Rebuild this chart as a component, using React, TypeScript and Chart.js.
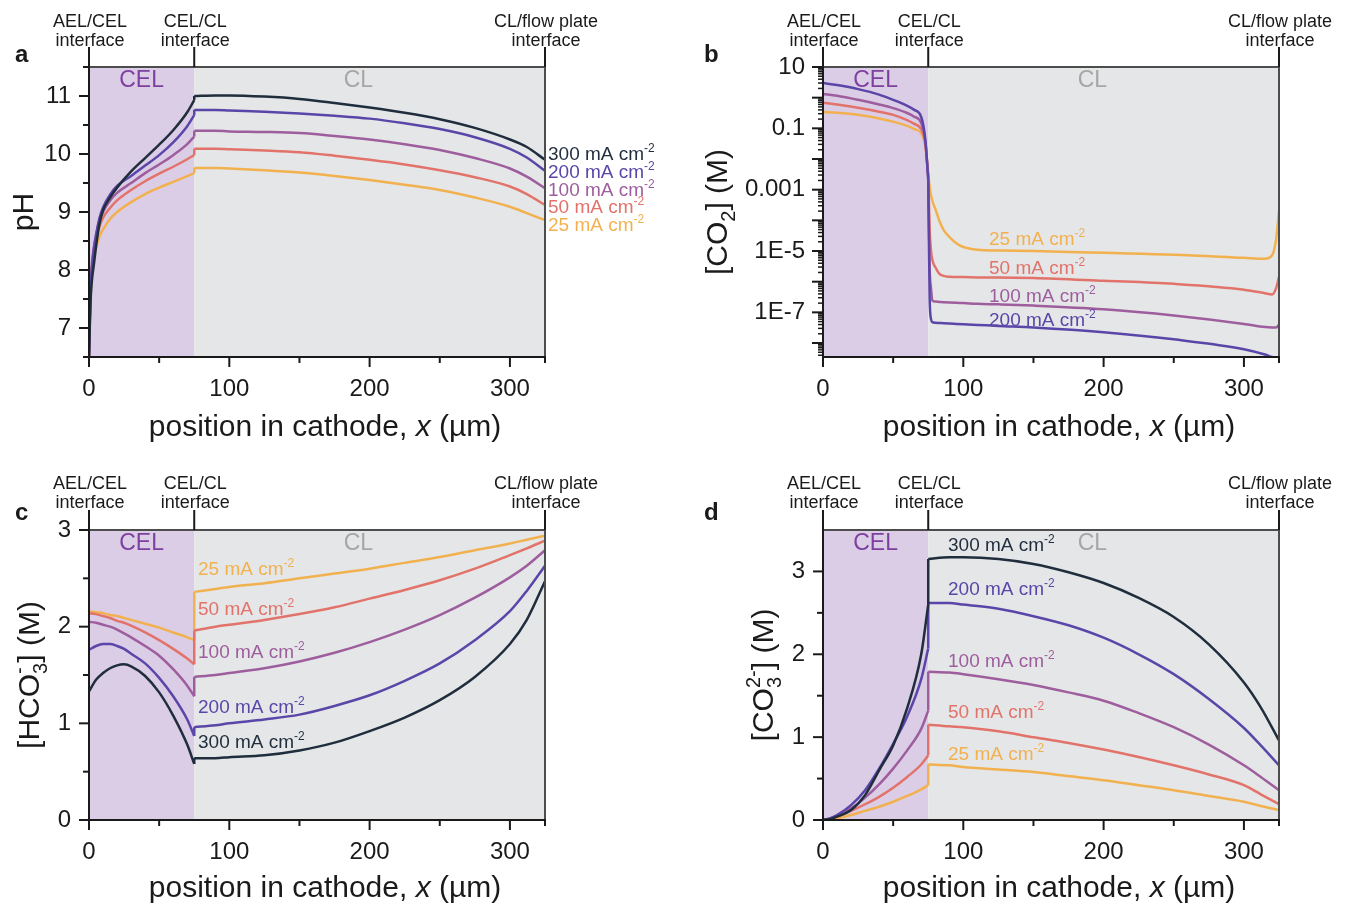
import React, { useEffect, useRef } from 'react';
import { Chart, registerables } from 'chart.js';

Chart.register(...registerables);

const FF = '"Liberation Sans", Arial, Helvetica, sans-serif';

// ---------------- shared axis data ----------------
const X_MIN = 0;
const X_MAX = 325;
const CEL_END = 75;
const X_TICKS = [0, 100, 200, 300];
const X_MINOR = [50, 150, 250];

// ---------------- panel a : pH ----------------
const A_X_CEL = [0, 1, 2, 3.5, 5, 7.5, 10, 15, 20, 30, 40, 50, 60, 70, 75];
const A_X_CL = [75, 90, 100, 125, 150, 175, 200, 225, 250, 275, 300, 312, 325];
const A_300_CEL = [6.5, 7.4, 7.8, 8.1, 8.4, 8.8, 9.03, 9.25, 9.42, 9.7, 9.93, 10.16, 10.41, 10.72, 10.93];
const A_300_CL = [11.0, 11.01, 11.01, 10.99, 10.95, 10.88, 10.8, 10.71, 10.6, 10.45, 10.25, 10.12, 9.9];
const A_200_CEL = [6.5, 7.6, 8.0, 8.35, 8.6, 8.9, 9.08, 9.3, 9.45, 9.62, 9.8, 9.98, 10.2, 10.48, 10.67];
const A_200_CL = [10.76, 10.76, 10.75, 10.73, 10.7, 10.66, 10.61, 10.53, 10.43, 10.29, 10.09, 9.94, 9.71];
const A_100_CEL = [6.5, 7.7, 8.1, 8.4, 8.6, 8.85, 9.0, 9.2, 9.33, 9.5, 9.67, 9.82, 9.98, 10.17, 10.3];
const A_100_CL = [10.4, 10.4, 10.39, 10.38, 10.36, 10.31, 10.25, 10.17, 10.07, 9.93, 9.75, 9.61, 9.41];
const A_50_CEL = [6.5, 7.6, 8.0, 8.35, 8.55, 8.75, 8.9, 9.07, 9.2, 9.38, 9.53, 9.66, 9.78, 9.91, 9.98];
const A_50_CL = [10.09, 10.09, 10.08, 10.06, 10.03, 9.97, 9.9, 9.82, 9.72, 9.6, 9.44, 9.31, 9.12];
const A_25_CEL = [6.5, 7.5, 7.9, 8.2, 8.38, 8.58, 8.7, 8.88, 9.0, 9.17, 9.31, 9.42, 9.52, 9.62, 9.67];
const A_25_CL = [9.76, 9.76, 9.75, 9.72, 9.68, 9.62, 9.55, 9.47, 9.38, 9.25, 9.09, 8.98, 8.86];
const A_Y_TICKS = [7, 8, 9, 10, 11];
const A_Y_LABELS = ['7', '8', '9', '10', '11'];
const A_Y_MINOR = [6.5, 7.5, 8.5, 9.5, 10.5, 11.5];

// ---------------- panel b : [CO2] ----------------
const B_X_CEL = [0, 10, 25, 40, 50, 60, 65, 70, 73, 75];
const B_X_CL = [75, 76, 77, 78, 80, 83, 86, 90, 95, 100, 110, 125, 150, 200, 250, 300, 315, 320, 323, 325];
const B_200_CEL = [3.0, 2.57, 1.9, 1.26, 0.85, 0.54, 0.4, 0.234, 0.04, 0.002];
const B_200_CL = [2e-3, 3e-7, 6e-8, 4.8e-8, 4.6e-8, 4.5e-8, 4.4e-8, 4.3e-8, 4.2e-8, 4.1e-8, 3.9e-8, 3.6e-8, 3.2e-8, 2.24e-8, 1.32e-8, 6.3e-9, 4.2e-9, 3.5e-9, 3.2e-9, 2.8e-9];
const B_100_CEL = [1.32, 1.15, 0.85, 0.6, 0.457, 0.316, 0.24, 0.15, 0.035, 0.0025];
const B_100_CL = [2.5e-3, 3e-6, 6e-7, 2.4e-7, 2.24e-7, 2.19e-7, 2.14e-7, 2.09e-7, 2.04e-7, 2.0e-7, 1.9e-7, 1.82e-7, 1.66e-7, 1.26e-7, 7.9e-8, 4.2e-8, 3.3e-8, 3.2e-8, 3.2e-8, 4.0e-8];
const B_50_CEL = [0.68, 0.6, 0.47, 0.35, 0.275, 0.186, 0.14, 0.093, 0.03, 0.003];
const B_50_CL = [3e-3, 5e-5, 1e-5, 5e-6, 3e-6, 1.8e-6, 1.55e-6, 1.45e-6, 1.41e-6, 1.41e-6, 1.38e-6, 1.38e-6, 1.32e-6, 1.07e-6, 8.5e-7, 5.5e-7, 4.2e-7, 3.8e-7, 6.3e-7, 1.45e-6];
const B_25_CEL = [0.34, 0.32, 0.275, 0.21, 0.166, 0.12, 0.095, 0.069, 0.025, 0.003];
const B_25_CL = [3e-3, 1.3e-3, 6.5e-4, 4.2e-4, 2.4e-4, 9.5e-5, 4.8e-5, 2.9e-5, 1.8e-5, 1.35e-5, 1.1e-5, 1.04e-5, 1.0e-5, 8.7e-6, 7.6e-6, 6.0e-6, 5.6e-6, 7.1e-6, 2.5e-5, 2.0e-4];
const B_Y_TICKS = [10, 0.1, 0.001, 1e-5, 1e-7];
const B_Y_LABELS = ['10', '0.1', '0.001', '1E-5', '1E-7'];
const B_Y_MIN = 3.5e-9;
const B_Y_MAX = 10;

// ---------------- panel c : [HCO3-] ----------------
const C_X_CEL = [0, 5, 10, 15, 20, 25, 30, 40, 50, 60, 70, 75];
const C_X_CL = [75, 90, 100, 125, 150, 175, 200, 225, 250, 275, 300, 312, 325];
const C_300_CEL = [1.33, 1.45, 1.52, 1.57, 1.6, 1.61, 1.59, 1.49, 1.32, 1.08, 0.78, 0.58];
const C_300_CL = [0.64, 0.64, 0.65, 0.67, 0.72, 0.8, 0.92, 1.06, 1.24, 1.48, 1.82, 2.07, 2.47];
const C_200_CEL = [1.76, 1.8, 1.82, 1.82, 1.8, 1.77, 1.72, 1.62, 1.47, 1.28, 1.04, 0.87];
const C_200_CL = [0.96, 0.98, 1.0, 1.04, 1.09, 1.18, 1.29, 1.44, 1.62, 1.86, 2.16, 2.37, 2.63];
const C_100_CEL = [2.05, 2.04, 2.02, 2.0, 1.97, 1.93, 1.89, 1.8, 1.7, 1.56, 1.39, 1.28];
const C_100_CL = [1.48, 1.5, 1.52, 1.57, 1.64, 1.73, 1.84, 1.97, 2.12, 2.3, 2.51, 2.63, 2.79];
const C_50_CEL = [2.14, 2.13, 2.11, 2.09, 2.06, 2.04, 2.01, 1.94, 1.86, 1.77, 1.67, 1.61];
const C_50_CL = [1.96, 2.0, 2.02, 2.07, 2.13, 2.2, 2.29, 2.38, 2.48, 2.6, 2.74, 2.81, 2.89];
const C_25_CEL = [2.16, 2.15, 2.14, 2.12, 2.11, 2.09, 2.07, 2.03, 1.99, 1.94, 1.89, 1.86];
const C_25_CL = [2.36, 2.39, 2.41, 2.45, 2.5, 2.55, 2.6, 2.66, 2.72, 2.79, 2.86, 2.9, 2.94];
const C_Y_TICKS = [0, 1, 2, 3];
const C_Y_LABELS = ['0', '1', '2', '3'];
const C_Y_MINOR = [0.5, 1.5, 2.5];

// ---------------- panel d : [CO3 2-] ----------------
const D_X_CEL = [0, 5, 10, 20, 30, 40, 50, 60, 70, 75];
const D_X_CL = [75, 90, 100, 125, 150, 175, 200, 225, 250, 275, 300, 312, 325];
const D_300_CEL = [0, 0.01, 0.04, 0.12, 0.3, 0.6, 0.9, 1.35, 2.0, 2.6];
const D_300_CL = [3.15, 3.17, 3.17, 3.15, 3.09, 2.99, 2.86, 2.68, 2.45, 2.12, 1.66, 1.36, 0.96];
const D_200_CEL = [0, 0.02, 0.06, 0.18, 0.36, 0.62, 0.92, 1.25, 1.7, 2.07];
const D_200_CL = [2.62, 2.62, 2.6, 2.55, 2.46, 2.35, 2.2, 2.0, 1.76, 1.46, 1.11, 0.9, 0.66];
const D_100_CEL = [0, 0.02, 0.05, 0.14, 0.27, 0.43, 0.62, 0.84, 1.1, 1.32];
const D_100_CL = [1.79, 1.78, 1.76, 1.7, 1.63, 1.54, 1.44, 1.29, 1.12, 0.91, 0.66, 0.52, 0.36];
const D_50_CEL = [0, 0.01, 0.04, 0.11, 0.19, 0.28, 0.39, 0.52, 0.67, 0.78];
const D_50_CL = [1.15, 1.13, 1.12, 1.07, 1.0, 0.93, 0.85, 0.76, 0.66, 0.55, 0.42, 0.31, 0.19];
const D_25_CEL = [0, 0.0, 0.02, 0.06, 0.11, 0.16, 0.22, 0.29, 0.37, 0.42];
const D_25_CL = [0.67, 0.66, 0.64, 0.61, 0.58, 0.53, 0.48, 0.42, 0.36, 0.29, 0.22, 0.17, 0.12];
const D_Y_TICKS = [0, 1, 2, 3];
const D_Y_LABELS = ['0', '1', '2', '3'];
const D_Y_MINOR = [0.5, 1.5, 2.5];

// ---------------- styles ----------------
const SERIES_COLORS: Record<string, string> = {
  '300': '#1f2d3d',
  '200': '#5a46a8',
  '100': '#9e5d9d',
  '50': '#e2736a',
  '25': '#f2b14f',
};
const CEL_BG = '#dccde6';
const CL_BG = '#e5e6e8';
const CEL_TEXT = '#7e40a0';
const CL_TEXT = '#a6a6a6';
const INK = '#1a1a1a';
const FRAME = '#4d4d4d';

type Seg = { t: string; font: string; dy?: number; over?: boolean };

function measureSegs(ctx: CanvasRenderingContext2D, segs: Seg[]) {
  let w = 0, lastStart = 0, lastW = 0;
  for (const s of segs) {
    ctx.font = s.font;
    const sw = ctx.measureText(s.t).width;
    if (s.over) {
      const adv = Math.max(lastW, sw);
      w = lastStart + adv;
      lastW = adv;
    } else {
      lastStart = w;
      w += sw;
      lastW = sw;
    }
  }
  return w;
}

function drawSegs(ctx: CanvasRenderingContext2D, segs: Seg[], x: number, y: number) {
  let cx = x, lastStart = x, lastW = 0;
  ctx.textAlign = 'left';
  ctx.textBaseline = 'alphabetic';
  for (const s of segs) {
    ctx.font = s.font;
    const sw = ctx.measureText(s.t).width;
    if (s.over) {
      ctx.fillText(s.t, lastStart, y + (s.dy || 0));
      const adv = Math.max(lastW, sw);
      cx = lastStart + adv;
      lastW = adv;
    } else {
      ctx.fillText(s.t, cx, y + (s.dy || 0));
      lastStart = cx;
      cx += sw;
      lastW = sw;
    }
  }
}

const T30 = `30px ${FF}`;
const S20 = `20px ${FF}`;
const S19 = `19px ${FF}`;

const Y_TITLE_A: Seg[] = [{ t: 'pH', font: T30 }];
const Y_TITLE_B: Seg[] = [
  { t: '[CO', font: T30 },
  { t: '2', font: S20, dy: 8 },
  { t: '] (M)', font: T30 },
];
const Y_TITLE_C: Seg[] = [
  { t: '[HCO', font: T30 },
  { t: '3', font: S20, dy: 8 },
  { t: '-', font: S20, dy: -13, over: true },
  { t: '] (M)', font: T30 },
];
const Y_TITLE_D: Seg[] = [
  { t: '[CO', font: T30 },
  { t: '3', font: S20, dy: 8 },
  { t: '2-', font: S20, dy: -13, over: true },
  { t: '] (M)', font: T30 },
];
const X_TITLE: Seg[] = [
  { t: 'position in cathode, ', font: `30px ${FF}` },
  { t: 'x', font: `italic 30px ${FF}` },
  { t: ' (\u00b5m)', font: `30px ${FF}` },
];

type SeriesLabel = { cur: string; x: number; y: number };

type PanelCfg = {
  letter: string;
  left: number; top: number; w: number; h: number;
  padTop: number; padRight: number; yw: number; xh: number;
  log: boolean;
  yMin: number; yMax: number;
  yTicks: number[]; yLabels: string[]; yMinor: number[];
  xCel: number[]; xCl: number[];
  series: { cur: string; cel: number[]; cl: number[] }[];
  yTitle: Seg[]; yTitleX: number;
  xTitleDy: number;
  letterX: number; letterY: number;
  ifaceY1: number; ifaceY2: number;
  labels: SeriesLabel[];
};

const PANELS: PanelCfg[] = [
  {
    letter: 'a', left: 0, top: 0, w: 676, h: 455,
    padTop: 67, padRight: 131, yw: 89, xh: 98,
    log: false, yMin: 6.5, yMax: 11.5,
    yTicks: A_Y_TICKS, yLabels: A_Y_LABELS, yMinor: A_Y_MINOR,
    xCel: A_X_CEL, xCl: A_X_CL,
    series: [
      { cur: '300', cel: A_300_CEL, cl: A_300_CL },
      { cur: '200', cel: A_200_CEL, cl: A_200_CL },
      { cur: '100', cel: A_100_CEL, cl: A_100_CL },
      { cur: '50', cel: A_50_CEL, cl: A_50_CL },
      { cur: '25', cel: A_25_CEL, cl: A_25_CL },
    ],
    yTitle: Y_TITLE_A, yTitleX: 33,
    xTitleDy: 79,
    letterX: 15, letterY: 62,
    ifaceY1: 27, ifaceY2: 46,
    labels: [
      { cur: '300', x: 548, y: 160 },
      { cur: '200', x: 548, y: 178 },
      { cur: '100', x: 548, y: 196 },
      { cur: '50', x: 548, y: 213 },
      { cur: '25', x: 548, y: 231 },
    ],
  },
  {
    letter: 'b', left: 676, top: 0, w: 675, h: 455,
    padTop: 67, padRight: 72, yw: 147, xh: 98,
    log: true, yMin: B_Y_MIN, yMax: B_Y_MAX,
    yTicks: B_Y_TICKS, yLabels: B_Y_LABELS, yMinor: [],
    xCel: B_X_CEL, xCl: B_X_CL,
    series: [
      { cur: '200', cel: B_200_CEL, cl: B_200_CL },
      { cur: '100', cel: B_100_CEL, cl: B_100_CL },
      { cur: '50', cel: B_50_CEL, cl: B_50_CL },
      { cur: '25', cel: B_25_CEL, cl: B_25_CL },
    ],
    yTitle: Y_TITLE_B, yTitleX: 51,
    xTitleDy: 79,
    letterX: 28, letterY: 62,
    ifaceY1: 27, ifaceY2: 46,
    labels: [
      { cur: '25', x: 313, y: 245 },
      { cur: '50', x: 313, y: 274 },
      { cur: '100', x: 313, y: 302 },
      { cur: '200', x: 313, y: 326 },
    ],
  },
  {
    letter: 'c', left: 0, top: 455, w: 676, h: 452,
    padTop: 75, padRight: 131, yw: 89, xh: 87,
    log: false, yMin: 0, yMax: 3,
    yTicks: C_Y_TICKS, yLabels: C_Y_LABELS, yMinor: C_Y_MINOR,
    xCel: C_X_CEL, xCl: C_X_CL,
    series: [
      { cur: '300', cel: C_300_CEL, cl: C_300_CL },
      { cur: '200', cel: C_200_CEL, cl: C_200_CL },
      { cur: '100', cel: C_100_CEL, cl: C_100_CL },
      { cur: '50', cel: C_50_CEL, cl: C_50_CL },
      { cur: '25', cel: C_25_CEL, cl: C_25_CL },
    ],
    yTitle: Y_TITLE_C, yTitleX: 39,
    xTitleDy: 77,
    letterX: 15, letterY: 65,
    ifaceY1: 34, ifaceY2: 53,
    labels: [
      { cur: '25', x: 198, y: 120 },
      { cur: '50', x: 198, y: 160 },
      { cur: '100', x: 198, y: 203 },
      { cur: '200', x: 198, y: 258 },
      { cur: '300', x: 198, y: 293 },
    ],
  },
  {
    letter: 'd', left: 676, top: 455, w: 675, h: 452,
    padTop: 75, padRight: 72, yw: 147, xh: 87,
    log: false, yMin: 0, yMax: 3.5,
    yTicks: D_Y_TICKS, yLabels: D_Y_LABELS, yMinor: D_Y_MINOR,
    xCel: D_X_CEL, xCl: D_X_CL,
    series: [
      { cur: '300', cel: D_300_CEL, cl: D_300_CL },
      { cur: '200', cel: D_200_CEL, cl: D_200_CL },
      { cur: '100', cel: D_100_CEL, cl: D_100_CL },
      { cur: '50', cel: D_50_CEL, cl: D_50_CL },
      { cur: '25', cel: D_25_CEL, cl: D_25_CL },
    ],
    yTitle: Y_TITLE_D, yTitleX: 97,
    xTitleDy: 77,
    letterX: 28, letterY: 65,
    ifaceY1: 34, ifaceY2: 53,
    labels: [
      { cur: '300', x: 272, y: 96 },
      { cur: '200', x: 272, y: 140 },
      { cur: '100', x: 272, y: 212 },
      { cur: '50', x: 272, y: 263 },
      { cur: '25', x: 272, y: 305 },
    ],
  },
];

const INTERFACES: { x: number; l1: string; l2: string }[] = [
  { x: X_MIN, l1: 'AEL/CEL', l2: 'interface' },
  { x: CEL_END, l1: 'CEL/CL', l2: 'interface' },
  { x: X_MAX, l1: 'CL/flow plate', l2: 'interface' },
];

function buildDatasets(p: PanelCfg) {
  const out: any[] = [];
  for (const s of p.series) {
    const color = SERIES_COLORS[s.cur];
    const cel = p.xCel.map((x, i) => ({ x, y: s.cel[i] }));
    const cl = p.xCl.map((x, i) => ({ x, y: s.cl[i] }));
    const base = {
      borderColor: color,
      backgroundColor: color,
      borderWidth: 2.5,
      pointRadius: 0,
      fill: false,
    };
    out.push({ ...base, data: cel, cubicInterpolationMode: 'monotone' });
    out.push({ ...base, data: [cel[cel.length - 1], cl[0]], tension: 0, cubicInterpolationMode: 'default' });
    out.push({ ...base, data: cl, cubicInterpolationMode: 'monotone' });
  }
  return out;
}

function makeDecor(p: PanelCfg) {
  return {
    id: 'decor',
    beforeDraw(chart: any) {
      const { ctx, chartArea: a, scales } = chart;
      const xs = scales.x;
      const x0 = xs.getPixelForValue(X_MIN);
      const x1 = xs.getPixelForValue(CEL_END);
      const x2 = xs.getPixelForValue(X_MAX);
      ctx.save();
      ctx.fillStyle = CEL_BG;
      ctx.fillRect(x0, a.top, x1 - x0, a.bottom - a.top);
      ctx.fillStyle = CL_BG;
      ctx.fillRect(x1, a.top, x2 - x1, a.bottom - a.top);
      ctx.restore();
    },
    afterDraw(chart: any) {
      const { ctx, chartArea: a, scales } = chart;
      const xs = scales.x;
      const ys = scales.y;
      const line = (xa: number, ya: number, xb: number, yb: number) => {
        ctx.beginPath();
        ctx.moveTo(xa, ya);
        ctx.lineTo(xb, yb);
        ctx.stroke();
      };
      ctx.save();
      ctx.lineCap = 'butt';
      ctx.lineWidth = 2;
      // top & right frame
      ctx.strokeStyle = FRAME;
      line(a.left, a.top, a.right + 1, a.top);
      line(a.right, a.top, a.right, a.bottom);
      // axes
      ctx.strokeStyle = INK;
      line(a.left, a.top - 20, a.left, a.bottom + 1);
      line(a.left - 1, a.bottom, a.right + 1, a.bottom);
      // x ticks
      for (const v of X_TICKS) {
        const px = xs.getPixelForValue(v);
        line(px, a.bottom, px, a.bottom + 10);
      }
      for (const v of X_MINOR) {
        const px = xs.getPixelForValue(v);
        line(px, a.bottom, px, a.bottom + 6);
      }
      line(a.right, a.bottom, a.right, a.bottom + 6);
      // y ticks
      if (p.log) {
        for (let k = -9; k <= 1; k++) {
          const major = Math.pow(10, k);
          ctx.lineWidth = 2;
          if (major >= p.yMin && major <= p.yMax) {
            const py = ys.getPixelForValue(major);
            line(a.left - 11, py, a.left, py);
          }
          ctx.lineWidth = 1.5;
          for (let m = 2; m <= 9; m++) {
            const v = m * Math.pow(10, k);
            if (v > p.yMin && v < p.yMax) {
              const py = ys.getPixelForValue(v);
              line(a.left - 5, py, a.left, py);
            }
          }
        }
        ctx.lineWidth = 2;
      } else {
        for (const v of p.yTicks) {
          const py = ys.getPixelForValue(v);
          line(a.left - 10, py, a.left, py);
        }
        for (const v of p.yMinor) {
          const py = ys.getPixelForValue(v);
          line(a.left - 6, py, a.left, py);
        }
      }
      // interface markers
      ctx.strokeStyle = INK;
      for (const it of INTERFACES) {
        const px = xs.getPixelForValue(it.x);
        line(px, a.top - 20, px, a.top);
      }
      // texts
      ctx.fillStyle = INK;
      ctx.textAlign = 'center';
      ctx.textBaseline = 'alphabetic';
      ctx.font = `18px ${FF}`;
      for (const it of INTERFACES) {
        const px = xs.getPixelForValue(it.x) + 1;
        ctx.fillText(it.l1, px, p.ifaceY1);
        ctx.fillText(it.l2, px, p.ifaceY2);
      }
      // region labels
      ctx.font = `23px ${FF}`;
      ctx.fillStyle = CEL_TEXT;
      ctx.fillText('CEL', xs.getPixelForValue(37.5), a.top + 20);
      ctx.fillStyle = CL_TEXT;
      ctx.fillText('CL', xs.getPixelForValue(192), a.top + 20);
      // panel letter
      ctx.fillStyle = INK;
      ctx.textAlign = 'left';
      ctx.font = `bold 24px ${FF}`;
      ctx.fillText(p.letter, p.letterX, p.letterY);
      // x title
      const xw = measureSegs(ctx, X_TITLE);
      const xc = (a.left + a.right) / 2 + 8;
      ctx.fillStyle = INK;
      drawSegs(ctx, X_TITLE, xc - xw / 2, a.bottom + p.xTitleDy);
      // y title
      const yc = (a.top + a.bottom) / 2;
      const yw = measureSegs(ctx, p.yTitle);
      ctx.save();
      ctx.translate(p.yTitleX, yc);
      ctx.rotate(-Math.PI / 2);
      ctx.fillStyle = INK;
      drawSegs(ctx, p.yTitle, -yw / 2, 0);
      ctx.restore();
      // series labels
      for (const lb of p.labels) {
        ctx.fillStyle = SERIES_COLORS[lb.cur];
        drawSegs(ctx, [
          { t: `${lb.cur} mA cm`, font: S19 },
          { t: '-2', font: `12px ${FF}`, dy: -8 },
        ], lb.x, lb.y);
      }
      ctx.restore();
    },
  };
}

function Panel({ cfg }: { cfg: PanelCfg }) {
  const ref = useRef<HTMLCanvasElement | null>(null);
  useEffect(() => {
    const canvas = ref.current;
    if (!canvas) return;
    const p = cfg;
    const chart = new Chart(canvas, {
      type: 'line',
      data: { datasets: buildDatasets(p) },
      options: {
        animation: false,
        responsive: false,
        devicePixelRatio: 1,
        events: [],
        layout: { padding: { top: p.padTop, right: p.padRight, left: 0, bottom: 0 } },
        plugins: { legend: { display: false }, tooltip: { enabled: false } },
        scales: {
          x: {
            type: 'linear',
            min: X_MIN,
            max: X_MAX,
            afterFit: (s: any) => { s.height = p.xh; },
            afterBuildTicks: (s: any) => { s.ticks = X_TICKS.map((v) => ({ value: v })); },
            grid: { display: false, drawTicks: false },
            border: { display: false },
            ticks: {
              autoSkip: false,
              maxRotation: 0,
              padding: 18,
              color: INK,
              font: { family: FF, size: 24 },
              callback: (v: any) => String(v),
            },
          },
          y: {
            type: p.log ? 'logarithmic' : 'linear',
            min: p.yMin,
            max: p.yMax,
            afterFit: (s: any) => { s.width = p.yw; },
            afterBuildTicks: (s: any) => { s.ticks = p.yTicks.map((v) => ({ value: v })); },
            grid: { display: false, drawTicks: false },
            border: { display: false },
            ticks: {
              autoSkip: false,
              padding: 18,
              color: INK,
              font: { family: FF, size: 24 },
              callback: (_v: any, i: number) => p.yLabels[i],
            },
          },
        },
      } as any,
      plugins: [makeDecor(p)],
    } as any);
    return () => chart.destroy();
  }, [cfg]);
  return (
    <canvas
      ref={ref}
      width={cfg.w}
      height={cfg.h}
      style={{ position: 'absolute', left: cfg.left, top: cfg.top, width: cfg.w, height: cfg.h }}
    />
  );
}

export default function App() {
  return (
    <div style={{ position: 'fixed', left: 0, top: 0, width: 1351, height: 907, background: '#ffffff', overflow: 'hidden' }}>
      {PANELS.map((p) => (
        <Panel key={p.letter} cfg={p} />
      ))}
    </div>
  );
}
